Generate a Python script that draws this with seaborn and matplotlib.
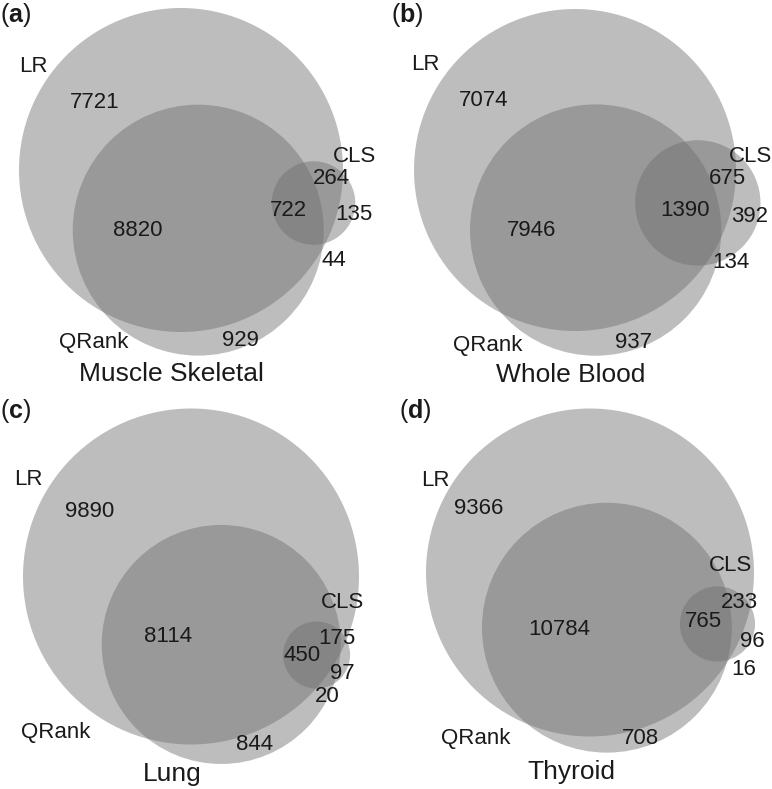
"""Area-proportional Euler diagrams of LR / QRank / CLS hits in four GTEx tissues."""

import numpy as np
import matplotlib

matplotlib.use("Agg")
import matplotlib.pyplot as plt  # noqa: E402
import seaborn as sns            # noqa: E402
from matplotlib.patches import Circle  # noqa: E402

# region counts, one entry per tissue
TISSUES = ["Muscle Skeletal", "Whole Blood", "Lung", "Thyroid"]
TAGS = ["a", "b", "c", "d"]
SET_NAMES = ["LR", "QRank", "CLS"]
LR_ONLY = [7721, 7074, 9890, 9366]
QRANK_ONLY = [929, 937, 844, 708]
CLS_ONLY = [135, 392, 97, 96]
LR_QRANK = [8820, 7946, 8114, 10784]
LR_CLS = [264, 675, 175, 233]
QRANK_CLS = [44, 134, 20, 16]
ALL_THREE = [722, 1390, 450, 765]

# layout (panel pixel units, y down)
PANEL_W, PANEL_H = 386, 394.5
LR_CENTER = [(181, 170), (189, 170), (191, 182), (204, 178)]
LR_RADIUS = [162, 161, 168, 164]
QRANK_ANGLE = [74, 71, 66, 73]
CLS_ANGLE = [14, 15, 32, 22]
REGION_XY = [
    [(95, 103), (240, 341), (354, 214), (138, 230), (331, 178), (334, 261), (288, 210)],
    [(98, 100), (248, 343), (364, 216), (146, 231), (341, 178), (345, 263), (299, 210)],
    [(90, 117), (255, 350), (342, 279), (168, 242), (337, 244), (327, 302), (302, 261)],
    [(93, 114), (254, 344), (366, 247), (173, 235), (353, 208), (358, 275), (317, 227)],
]
NAME_XY = [
    [(33, 67), (94, 343), (354, 157)],
    [(39, 64), (102, 346), (364, 156)],
    [(28, 85), (56, 338), (343, 208)],
    [(49, 86), (90, 344), (345, 171)],
]
TITLE_XY = [(171, 374), (185, 375), (172, 380), (185, 378)]
TAG_XY = [(0, 1), (5, 1), (0, 2), (13, 2)]

FILL = "#6e6e6e"
ALPHA = 0.45
INK = "#1a1a1a"


def lens_area(d, r1, r2):
    if d >= r1 + r2:
        return 0.0
    if d <= abs(r1 - r2):
        return np.pi * min(r1, r2) ** 2
    a1 = r1 ** 2 * np.arccos((d * d + r1 * r1 - r2 * r2) / (2 * d * r1))
    a2 = r2 ** 2 * np.arccos((d * d + r2 * r2 - r1 * r1) / (2 * d * r2))
    a3 = 0.5 * np.sqrt((-d + r1 + r2) * (d + r1 - r2) * (d - r1 + r2) * (d + r1 + r2))
    return a1 + a2 - a3


def solve_distance(r1, r2, area):
    lo, hi = abs(r1 - r2), r1 + r2
    for _ in range(80):
        mid = 0.5 * (lo + hi)
        if lens_area(mid, r1, r2) > area:
            lo = mid
        else:
            hi = mid
    return 0.5 * (lo + hi)


def euler_layout(i):
    totals = np.array([
        LR_ONLY[i] + LR_QRANK[i] + LR_CLS[i] + ALL_THREE[i],
        QRANK_ONLY[i] + LR_QRANK[i] + QRANK_CLS[i] + ALL_THREE[i],
        CLS_ONLY[i] + LR_CLS[i] + QRANK_CLS[i] + ALL_THREE[i],
    ], dtype=float)
    px_per_count = np.pi * LR_RADIUS[i] ** 2 / totals[0]
    radii = np.sqrt(totals * px_per_count / np.pi)
    # pairwise distances from the LR circle, matched to the overlap sizes
    d12 = solve_distance(radii[0], radii[1], (LR_QRANK[i] + ALL_THREE[i]) * px_per_count)
    d13 = solve_distance(radii[0], radii[2], (LR_CLS[i] + ALL_THREE[i]) * px_per_count)

    p1 = np.array(LR_CENTER[i], dtype=float)
    t2, t3 = np.deg2rad(QRANK_ANGLE[i]), np.deg2rad(CLS_ANGLE[i])
    p2 = p1 + d12 * np.array([np.cos(t2), np.sin(t2)])
    p3 = p1 + d13 * np.array([np.cos(t3), np.sin(t3)])
    return [p1, p2, p3], radii


def draw_panel(ax, i):
    centers, radii = euler_layout(i)
    for c, r in zip(centers, radii):
        ax.add_patch(Circle(c, r, facecolor=FILL, edgecolor="none", alpha=ALPHA))

    counts = [LR_ONLY[i], QRANK_ONLY[i], CLS_ONLY[i], LR_QRANK[i],
              LR_CLS[i], QRANK_CLS[i], ALL_THREE[i]]
    for n, (x, y) in zip(counts, REGION_XY[i]):
        ax.text(x, y, str(n), ha="center", va="center", fontsize=16, color=INK)
    for name, (x, y) in zip(SET_NAMES, NAME_XY[i]):
        ax.text(x, y, name, ha="center", va="center", fontsize=16, color=INK)

    tx, ty = TITLE_XY[i]
    ax.text(tx, ty, TISSUES[i], ha="center", va="center", fontsize=19, color=INK)
    gx, gy = TAG_XY[i]
    ax.text(gx, gy, "($\\mathbf{%s}$)" % TAGS[i], ha="left", va="top",
            fontsize=18, color=INK)

    ax.set_xlim(0, PANEL_W)
    ax.set_ylim(PANEL_H, 0)
    ax.set_aspect("equal")
    ax.set_axis_off()


def main():
    sns.set_theme(style="white")
    plt.rcParams["font.family"] = ["Liberation Sans", "DejaVu Sans"]
    plt.rcParams["mathtext.fontset"] = "custom"
    plt.rcParams["mathtext.rm"] = "Liberation Sans"
    plt.rcParams["mathtext.bf"] = "Liberation Sans:bold"

    fig = plt.figure(figsize=(7.72, 7.89), dpi=100)
    fig.patch.set_facecolor("white")
    for i in range(len(TISSUES)):
        col, row = i % 2, i // 2
        ax = fig.add_axes([0.5 * col, 0.5 - 0.5 * row, 0.5, 0.5])
        draw_panel(ax, i)

    fig.savefig("out.png", dpi=100, facecolor="white")
    plt.close(fig)


if __name__ == "__main__":
    main()
